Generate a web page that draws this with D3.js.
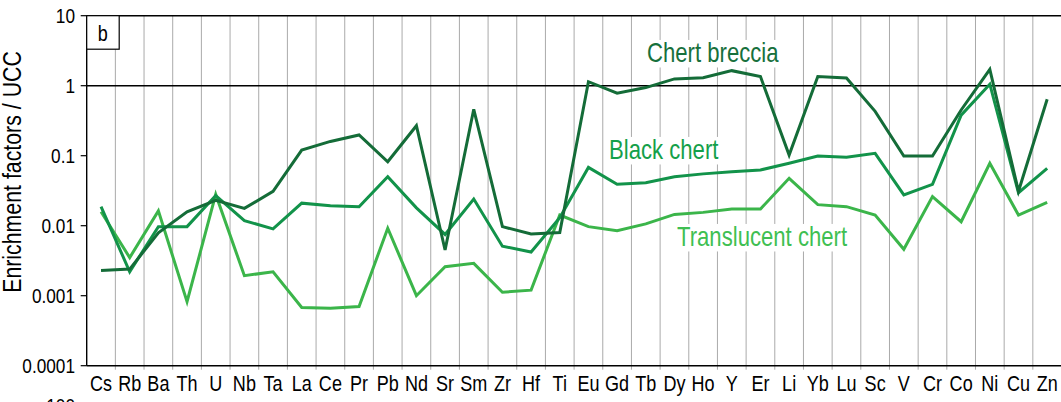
<!DOCTYPE html>
<html>
<head>
<meta charset="utf-8">
<script src="https://cdn.jsdelivr.net/npm/d3@7"></script>
<style>
  body { margin: 0; background: #fff; }
  text { font-family: "Liberation Sans", Arial, sans-serif; }
</style>
</head>
<body>
<div id="chart"></div>
<script>
// element order along the x axis
const elements = ["Cs", "Rb", "Ba", "Th", "U", "Nb", "Ta", "La", "Ce", "Pr", "Pb", "Nd", "Sr", "Sm", "Zr", "Hf", "Ti",
  "Eu", "Gd", "Tb", "Dy", "Ho", "Y", "Er", "Li", "Yb", "Lu", "Sc", "V", "Cr", "Co", "Ni", "Cu", "Zn"];

// enrichment factors normalised to UCC
const chertBreccia = [0.0023, 0.0024, 0.0079, 0.0158, 0.023, 0.0177, 0.031, 0.12, 0.16, 0.198, 0.082, 0.268, 0.0045,
  0.46, 0.0097, 0.0076, 0.008, 1.14, 0.78, 0.94, 1.25, 1.3, 1.64, 1.35, 0.102, 1.35, 1.29, 0.43, 0.099, 0.099, 0.45,
  1.71, 0.031, 0.64];
const blackChert = [0.0187, 0.0022, 0.0097, 0.0097, 0.027, 0.0118, 0.009, 0.021, 0.0193, 0.0187, 0.05, 0.018, 0.0075,
  0.024, 0.0051, 0.0042, 0.013, 0.068, 0.039, 0.041, 0.05, 0.055, 0.059, 0.0625, 0.078, 0.099, 0.095, 0.108, 0.0275,
  0.039, 0.38, 1.05, 0.0296, 0.066];
const translucentChert = [0.0158, 0.0035, 0.0163, 0.00082, 0.028, 0.00193, 0.0022, 0.00068, 0.00066, 0.0007, 0.0092,
  0.001, 0.0026, 0.0029, 0.00112, 0.0012, 0.0142, 0.0097, 0.0085, 0.0106, 0.0145, 0.0155, 0.0173, 0.0173, 0.0475,
  0.02, 0.0187, 0.0142, 0.0046, 0.026, 0.0114, 0.078, 0.0142, 0.0216];

const yTicks = [0.0001, 0.001, 0.01, 0.1, 1, 10];
const yTickLabels = ["0.0001", "0.001", "0.01", "0.1", "1", "10"];

const width = 1061, height = 402;
const margin = { top: 15.7, left: 86.7, bottom: 365.7, right: 1061.5 };
const narrow = 0.82; // squeeze glyphs to look like a condensed face

const svg = d3.select("#chart").append("svg")
  .attr("width", width)
  .attr("height", height);

const x = d3.scaleBand()
  .domain(elements)
  .range([margin.left, margin.right])
  .padding(0);

const y = d3.scaleLog()
  .domain([0.0001, 10])
  .range([margin.bottom, margin.top]);

// vertical grid lines between elements
const step = x.step();
svg.append("g")
  .selectAll("line")
  .data(d3.range(1, elements.length))
  .join("line")
  .attr("x1", (i) => margin.left + i * step)
  .attr("x2", (i) => margin.left + i * step)
  .attr("y1", margin.top)
  .attr("y2", margin.bottom + 4)
  .attr("stroke", "#aaaaaa")
  .attr("stroke-width", 1);

// line at UCC = 1
svg.append("line")
  .attr("x1", margin.left).attr("x2", width)
  .attr("y1", y(1)).attr("y2", y(1))
  .attr("stroke", "#000").attr("stroke-width", 1.4);

// frame
svg.append("line")
  .attr("x1", margin.left).attr("x2", width)
  .attr("y1", margin.top).attr("y2", margin.top)
  .attr("stroke", "#000").attr("stroke-width", 1.4);
svg.append("line")
  .attr("x1", margin.left).attr("x2", width)
  .attr("y1", margin.bottom).attr("y2", margin.bottom)
  .attr("stroke", "#000").attr("stroke-width", 1.4);
svg.append("line")
  .attr("x1", margin.left).attr("x2", margin.left)
  .attr("y1", margin.top).attr("y2", margin.bottom)
  .attr("stroke", "#000").attr("stroke-width", 1.4);

// y axis ticks + labels
svg.append("g")
  .selectAll("line")
  .data(yTicks)
  .join("line")
  .attr("x1", margin.left - 6).attr("x2", margin.left)
  .attr("y1", (d) => y(d)).attr("y2", (d) => y(d))
  .attr("stroke", "#000").attr("stroke-width", 1.2);

svg.append("g")
  .selectAll("text")
  .data(yTicks)
  .join("text")
  .attr("transform", (d) => `translate(75,${y(d)}) scale(${narrow},1)`)
  .attr("dy", "0.36em")
  .attr("text-anchor", "end")
  .style("font-size", "21px")
  .attr("fill", "#000")
  .text((d, i) => yTickLabels[i]);

// cut-off label of the panel below
svg.append("text")
  .attr("transform", `translate(75,413) scale(${narrow},1)`)
  .attr("text-anchor", "end")
  .style("font-size", "21px")
  .text("100");

// x labels
svg.append("g")
  .selectAll("text")
  .data(elements)
  .join("text")
  .attr("transform", (d) => `translate(${x(d) + x.bandwidth() / 2},391) scale(${narrow},1)`)
  .attr("text-anchor", "middle")
  .style("font-size", "22px")
  .attr("fill", "#000")
  .text((d) => d);

// y axis title
svg.append("text")
  .attr("transform", `translate(21,172) rotate(-90) scale(${narrow},1)`)
  .attr("text-anchor", "middle")
  .style("font-size", "26px")
  .text("Enrichment factors / UCC");

// panel letter
svg.append("rect")
  .attr("x", margin.left).attr("y", margin.top)
  .attr("width", 32.5).attr("height", 33.5)
  .attr("fill", "#fff").attr("stroke", "#000").attr("stroke-width", 1.2);
svg.append("text")
  .attr("transform", `translate(${margin.left + 16},40.5) scale(${narrow},1)`)
  .attr("text-anchor", "middle")
  .style("font-size", "22px")
  .text("b");

// series labels with white backing
function seriesLabel(txt, lx, ly, color) {
  const g = svg.append("g");
  const bg = g.append("rect").attr("fill", "#fff");
  const t = g.append("text")
    .attr("transform", `translate(${lx},${ly}) scale(${narrow},1)`)
    .style("font-size", "27px")
    .attr("fill", color)
    .text(txt);
  const bb = t.node().getBBox();
  bg.attr("x", lx + bb.x * narrow - 3).attr("y", ly + bb.y + 2)
    .attr("width", bb.width * narrow + 6).attr("height", bb.height - 2);
}
seriesLabel("Chert breccia", 647, 62, "#17703c");
seriesLabel("Black chert", 609, 159, "#14a04a");
seriesLabel("Translucent chert", 677, 246, "#3fbf52");

// series lines
const line = d3.line()
  .x((d, i) => x(elements[i]) + x.bandwidth() / 2)
  .y((d) => y(d));

const series = [
  { values: translucentChert, color: "#3bb54a" },
  { values: blackChert, color: "#12934a" },
  { values: chertBreccia, color: "#146c38" }
];

svg.append("g")
  .selectAll("path")
  .data(series)
  .join("path")
  .attr("fill", "none")
  .attr("stroke", (d) => d.color)
  .attr("stroke-width", 3)
  .attr("stroke-linejoin", "miter")
  .attr("d", (d) => line(d.values));
</script>
</body>
</html>
